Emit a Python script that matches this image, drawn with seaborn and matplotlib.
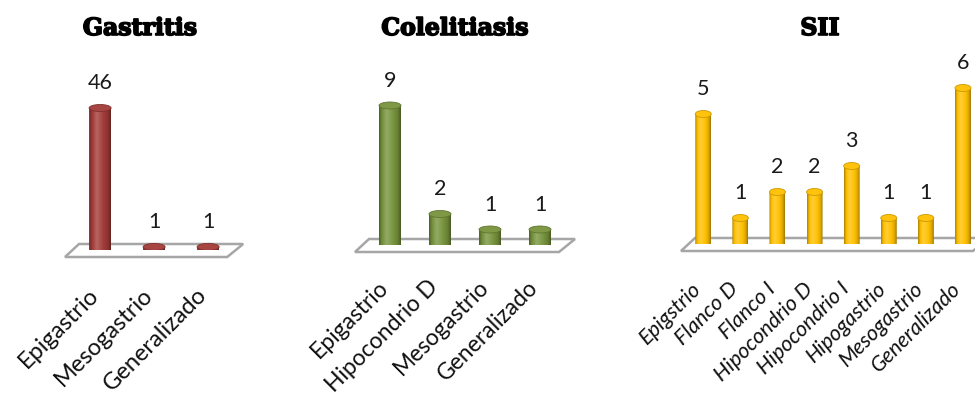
import numpy as np
import matplotlib
matplotlib.use("Agg")
import matplotlib.pyplot as plt
import seaborn as sns
from matplotlib.path import Path
from matplotlib.patches import PathPatch, Ellipse, Polygon
from matplotlib.colors import to_rgb
from matplotlib.transforms import ScaledTranslation
import matplotlib.patheffects as pe

# ---- data ----
gastritis_labels = ["Epigastrio", "Mesogastrio", "Generalizado"]
gastritis_values = [46, 1, 1]

colelitiasis_labels = ["Epigastrio", "Hipocondrio D", "Mesogastrio", "Generalizado"]
colelitiasis_values = [9, 2, 1, 1]

sii_labels = ["Epigstrio", "Flanco D", "Flanco I", "Hipocondrio D",
              "Hipocondrio I", "Hipogastrio", "Mesogastrio", "Generalizado"]
sii_values = [5, 1, 2, 2, 3, 1, 1, 6]

titles = ["Gastritis", "Colelitiasis", "SII"]

sns.set_theme(style="white")
plt.rcParams["font.family"] = ["Lato", "DejaVu Sans"]

W, H = 975, 400
fig = plt.figure(figsize=(W / 100, H / 100), dpi=100)


def shade(base, k):
    r = np.array(to_rgb(base))
    if k >= 0:
        return r + (1 - r) * k
    return r * (1 + k)


def cylinder_gradient(base, n=64):
    t = np.linspace(0, 1, n)
    # dark at both edges, highlight a little left of centre
    prof = np.interp(t, [0, 0.12, 0.35, 0.6, 0.88, 1.0],
                     [-0.35, -0.05, 0.22, 0.05, -0.15, -0.4])
    cols = np.array([shade(base, k) for k in prof])
    return np.clip(cols, 0, 1)[np.newaxis, :, :]


def panel(labels, values, color, title, left_px, spacing, base_px, top_px,
          scale, bar_px, pad_lo, pad_hi, tick_fs, tick_style="normal",
          value_fs=15.5, title_x=None, label_dx=-5, label_pad=30):
    n = len(values)
    xmin, xmax = -pad_lo, n - 1 + pad_hi
    x0 = left_px
    x1 = left_px + (xmax - xmin) * spacing
    ax = fig.add_axes([x0 / W, (H - base_px) / H, (x1 - x0) / W,
                       (base_px - top_px) / H])
    ymax = (base_px - top_px) / scale
    width = bar_px / spacing
    sns.barplot(x=list(range(n)), y=values, color=color, width=width,
                ax=ax, native_scale=True, zorder=3)

    cap = 7.0 / scale  # ellipse height in data units
    grad = cylinder_gradient(color)
    for p in list(ax.patches):
        bx, bw, bh = p.get_x(), p.get_width(), p.get_height()
        p.set_visible(False)
        cx = bx + bw / 2
        # body: rectangle with rounded (half-ellipse) bottom
        theta = np.linspace(np.pi, 2 * np.pi, 30)
        bottom = np.column_stack([cx + bw / 2 * np.cos(theta),
                                  cap / 2 * np.sin(theta)])
        verts = np.vstack([[bx, bh], [bx, 0], bottom, [bx + bw, bh], [bx, bh]])
        body = PathPatch(Path(verts, closed=True), facecolor="none",
                         edgecolor="none", transform=ax.transData)
        ax.add_patch(body)
        im = ax.imshow(grad, extent=[bx, bx + bw, -cap / 2, bh],
                       aspect="auto", zorder=3, interpolation="bicubic")
        im.set_clip_path(body)
        ax.add_patch(Ellipse((cx, bh), bw, cap,
                             facecolor=shade(color, 0.05),
                             edgecolor=shade(color, -0.2), lw=0.6, zorder=4))

    # floor
    sx = 1.0 / spacing
    sy = 1.0 / scale
    fl = Polygon([[xmin, -7 * sy], [xmax - 16 * sx, -7 * sy],
                  [xmax, 6 * sy], [xmin + 14 * sx, 6 * sy]],
                 closed=True, facecolor="white", edgecolor="#a6a6a6",
                 lw=1.8, zorder=1, clip_on=False)
    ax.add_patch(fl)

    for i, v in enumerate(values):
        ax.annotate(str(v), (i, v + cap / 2), xytext=(0, 8),
                    textcoords="offset points", ha="center", va="bottom",
                    fontsize=value_fs, color="#1a1a1a")

    ax.set_xlim(xmin, xmax)
    ax.set_ylim(0, ymax)
    ax.set_yticks([])
    ax.set_xticks(range(n))
    ax.set_xticklabels(labels, rotation=45, ha="right", va="center",
                       rotation_mode="anchor", fontsize=tick_fs,
                       style=tick_style, color="#111111")
    ax.tick_params(axis="x", length=0, pad=label_pad)
    shift = ScaledTranslation(label_dx / 100, 0, fig.dpi_scale_trans)
    for lab in ax.get_xticklabels():
        lab.set_transform(lab.get_transform() + shift)
    for s in ax.spines.values():
        s.set_visible(False)
    ax.patch.set_alpha(0)

    tx = title_x if title_x is not None else (x0 + x1) / 2
    fig.text(tx / W, 1 - 28 / H, title, ha="center", va="center",
             fontsize=17, fontweight="bold", family="DejaVu Serif",
             color="black",
             path_effects=[pe.withStroke(linewidth=1.2, foreground="black")])
    return ax


panel(gastritis_labels, gastritis_values, "#a23b38", titles[0],
      left_px=65, spacing=54, base_px=250, top_px=60, scale=3.087,
      bar_px=22, pad_lo=0.65, pad_hi=0.65, tick_fs=17, title_x=140)
panel(colelitiasis_labels, colelitiasis_values, "#77933c", titles[1],
      left_px=355, spacing=50, base_px=245, top_px=60, scale=15.5,
      bar_px=22, pad_lo=0.7, pad_hi=0.7, tick_fs=16.5, label_pad=28,
      title_x=455)
panel(sii_labels, sii_values, "#ffc000", titles[2],
      left_px=681, spacing=37.1, base_px=244, top_px=60, scale=26,
      bar_px=16, pad_lo=0.6, pad_hi=0.7, tick_fs=15.5, tick_style="italic",
      title_x=820)

fig.savefig("out.png", dpi=100)
